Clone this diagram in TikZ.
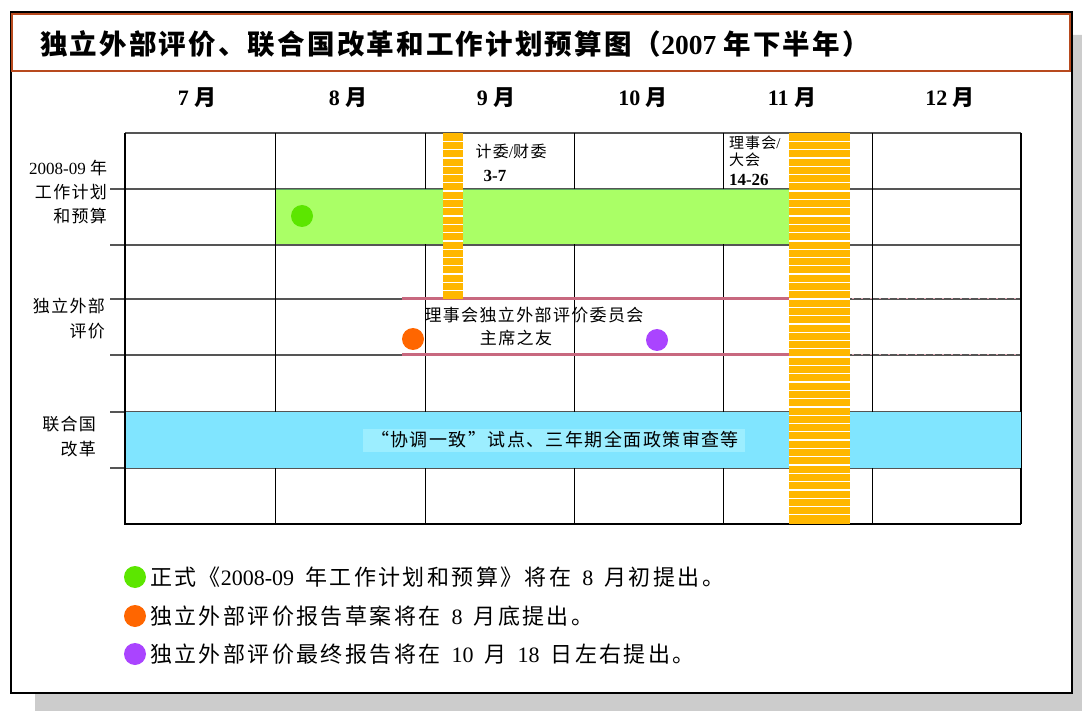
\documentclass[tikz,border=0pt]{standalone}
\usepackage{fontspec}
\setmainfont{Liberation Serif}
\newfontfamily\cjk{Noto Sans CJK SC}[LetterSpace=8]
\newfontfamily\cjkw{Noto Sans CJK SC}[LetterSpace=11]
\definecolor{obar}{HTML}{FFB700}
\definecolor{gbar}{HTML}{AAFF66}
\definecolor{cbar}{HTML}{80E5FF}
\definecolor{cbox}{HTML}{9CEEFF}
\definecolor{pinkline}{HTML}{C8687F}
\definecolor{dgreen}{HTML}{5CE600}
\definecolor{dorange}{HTML}{FF6600}
\definecolor{dpurple}{HTML}{AA44FF}
\definecolor{titlebrd}{HTML}{B84A1E}
\definecolor{shadowc}{HTML}{CCCCCC}
\definecolor{gridh}{HTML}{555555}
\begin{document}
\begin{tikzpicture}[x=1pt,y=-1pt,
  txt/.style={inner sep=0pt, outer sep=0pt},
  monthlbl/.style={txt, font=\fontsize{22}{24}\selectfont\bfseries},
  rowlbl/.style={txt, anchor=east, font=\fontsize{17}{19}\selectfont},
  smalltxt/.style={txt, font=\fontsize{16}{18}\selectfont},
  boldnum/.style={txt, font=\fontsize{17}{19}\selectfont\bfseries},
  midtxt/.style={txt, font=\fontsize{17}{19}\selectfont},
  legtxt/.style={txt, anchor=west, font=\fontsize{22}{24}\selectfont},
  hline/.style={gridh, line width=1.3pt},
  vline/.style={black, line width=0.9pt},
  stripe/.style={white, line width=1.3pt}
]
\path[use as bounding box] (0,0) rectangle (1082,711);
% shadow and frame
\fill[shadowc] (1072,35) -- (1082,35) -- (1082,711) -- (35,711) -- (35,693) -- (1072,693) -- cycle;
\draw[black, line width=1.6pt] (11,12) rectangle (1072,693);
\draw[titlebrd, line width=1.3pt] (12,14) rectangle (1070,71);
\node[txt, anchor=west, font=\fontsize{27.5}{30}\selectfont\bfseries] (title) at (40,44)
  {\cjk 独立外部评价、联合国改革和工作计划预算图（\rmfamily 2007 \cjk 年下半年）};
% months
\node[monthlbl] (m7) at (197,98) {7 {\cjk 月}};
\node[monthlbl] (m8) at (348,98) {8 {\cjk 月}};
\node[monthlbl] (m9) at (496,98) {9 {\cjk 月}};
\node[monthlbl] (m10) at (643,98) {10 {\cjk 月}};
\node[monthlbl] (m11) at (792,98) {11 {\cjk 月}};
\node[monthlbl] (m12) at (950,98) {12 {\cjk 月}};
% grid
\draw[hline] (125,133) -- (1021,133);
\foreach \yy in {189,245,299,355,412,468} \draw[hline] (110,\yy) -- (1021,\yy);
\foreach \xx in {275,425,574,723,872} \draw[vline] (\xx,133) -- (\xx,524);
\draw[black, line width=1.3pt] (1021,133) -- (1021,524);
\draw[black, line width=1.8pt] (125,133) -- (125,524) -- (1021,524);
% bars
\fill[gbar] (276,189.7) rectangle (790,244.3);
\draw[gray!70!green, line width=0.6pt] (276,189) -- (790,189);
\fill[cbar] (126,412) rectangle (1021,467.5);
\fill[cbox] (363,429) rectangle (745,452);
\draw[pinkline, line width=3pt] (402,299) -- (790,299);
\draw[pinkline, line width=3pt] (402,355) -- (790,355);
\draw[pinkline!60, line width=1pt, dash pattern=on 2pt off 7pt] (852,299) -- (1019,299);
\draw[pinkline!60, line width=1pt, dash pattern=on 2pt off 7pt] (852,355) -- (1019,355);
% orange striped bars
\fill[obar] (443,133) rectangle (463,299);
\foreach \k in {1,...,19} \draw[stripe] (443,{133+\k*8.3}) -- (463,{133+\k*8.3});
\fill[obar] (789,133) rectangle (850,524);
\foreach \k in {1,...,46} \draw[stripe] (789,{133+\k*8.3}) -- (850,{133+\k*8.3});
% row labels
\node[rowlbl] (r1a) at (107,168) {2008-09 {\cjk 年}};
\node[rowlbl] (r1b) at (107,192) {\cjk 工作计划};
\node[rowlbl] (r1c) at (107,216) {\cjk 和预算};
\node[rowlbl] (r2a) at (105,306) {\cjk 独立外部};
\node[rowlbl] (r2b) at (105,331) {\cjk 评价};
\node[rowlbl] (r3a) at (96,424) {\cjk 联合国};
\node[rowlbl] (r3b) at (96,449) {\cjk 改革};
% event labels
\node[smalltxt] (jw) at (511,151) {{\cjk 计委}/{\cjk 财委}};
\node[boldnum] (d37) at (495,176) {3-7};
\node[txt, anchor=west, font=\fontsize{15}{17}\selectfont] (lsh) at (729,143) {{\cjk 理事会}/};
\node[txt, anchor=west, font=\fontsize{15}{17}\selectfont] (dh) at (729,160) {\cjk 大会};
\node[boldnum, anchor=west] (d1426) at (729,180) {14-26};
\node[midtxt] (fr1) at (534,315) {\cjk 理事会独立外部评价委员会};
\node[midtxt] (fr2) at (516,338) {\cjk 主席之友};
\node[txt, font=\fontsize{18}{20}\selectfont] (un) at (555,440) {\cjk “协调一致”试点、三年期全面政策审查等};
% dots
\fill[dgreen] (302,216) circle[radius=11pt];
\fill[dorange] (413,339) circle[radius=11pt];
\fill[dpurple] (657,340) circle[radius=11pt];
% legend
\fill[dgreen] (135,577) circle[radius=11pt];
\fill[dorange] (135,616) circle[radius=11pt];
\fill[dpurple] (135,654) circle[radius=11pt];
\node[legtxt] (l1) at (150,577) {{\cjkw 正式《}2008-09\enspace{\cjkw 年工作计划和预算》将在}\enspace 8\enspace{\cjkw 月初提出。}};
\node[legtxt] (l2) at (150,616) {{\cjkw 独立外部评价报告草案将在}\enspace 8\enspace{\cjkw 月底提出。}};
\node[legtxt] (l3) at (150,654) {{\cjkw 独立外部评价最终报告将在}\enspace 10\enspace{\cjkw 月}\enspace 18\enspace{\cjkw 日左右提出。}};
\end{tikzpicture}
\end{document}
